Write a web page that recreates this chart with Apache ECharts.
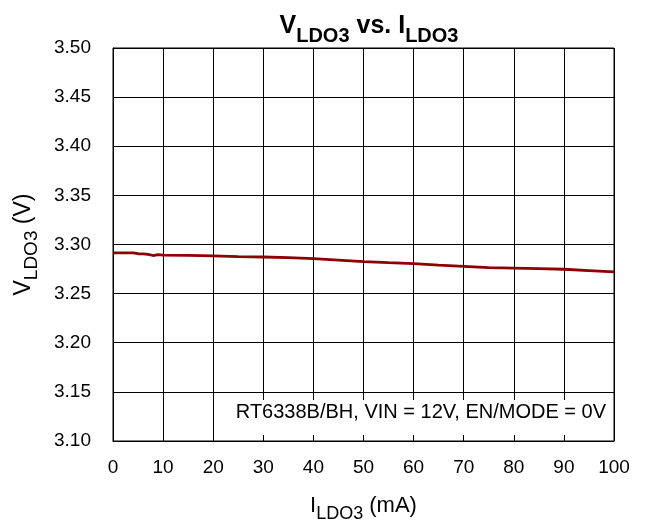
<!DOCTYPE html>
<html><head><meta charset="utf-8">
<script src="https://cdn.jsdelivr.net/npm/echarts@6/dist/echarts.min.js"></script>
<style>html,body{margin:0;padding:0;background:#fff}#c{width:649px;height:524px}</style>
</head><body><div id="c"></div>
<script>
const currentMA = [0, 2, 4, 5, 6, 7, 8, 9, 10, 15, 20, 25, 30, 35, 40, 45, 50, 55, 60, 65, 70, 75, 80, 85, 90, 95, 100];
const voltageV = [3.2915, 3.2915, 3.2914, 3.2906, 3.2905, 3.2899, 3.2888, 3.2898, 3.2891, 3.2890, 3.2884, 3.2877, 3.2873, 3.2866, 3.2856, 3.2841, 3.2826, 3.2815, 3.2805, 3.2791, 3.2778, 3.2765, 3.2760, 3.2755, 3.2748, 3.2735, 3.2721];
const yTicks = [3.10, 3.15, 3.20, 3.25, 3.30, 3.35, 3.40, 3.45, 3.50];
const xTicks = [0, 10, 20, 30, 40, 50, 60, 70, 80, 90, 100];
const note = 'RT6338B/BH, VIN = 12V, EN/MODE = 0V';
const noteBox = {x0: 20.2, x1: 99.7, y0: 3.1061, y1: 3.1418};

const F = 'Liberation Sans, Arial, sans-serif';
const chart = echarts.init(document.getElementById('c'));
chart.setOption({
  animation: false,
  backgroundColor: '#fff',
  title: {
    text: '{m|V}{s|LDO3}{m| vs. I}{s|LDO3}',
    left: 364, textAlign: 'center', top: 5,
    textStyle: {
      rich: {
        m: {fontFamily: F, fontSize: 25, fontWeight: 'bold', color: '#000', lineHeight: 29, verticalAlign: 'bottom'},
        s: {fontFamily: F, fontSize: 20, fontWeight: 'bold', color: '#000', lineHeight: 24, verticalAlign: 'bottom', padding: [0,0,-7,0]}
      }
    }
  },
  grid: {left: 113, right: 35, top: 48, bottom: 83, show: true, borderColor: '#000', borderWidth: 1, containLabel: false, outerBoundsMode: 'none'},
  xAxis: {
    type: 'value', min: xTicks[0], max: xTicks[xTicks.length-1], interval: 10,
    axisLine: {show: true, lineStyle: {color: '#000', width: 1}},
    axisTick: {show: false},
    splitLine: {show: true, lineStyle: {color: '#000', width: 1}},
    axisLabel: {fontFamily: F, fontSize: 19, color: '#000', margin: 17},
    name: '{m|I}{s|LDO3}{m| (mA)}', nameLocation: 'middle', nameGap: 50,
    nameTextStyle: {rich: {
      m: {fontFamily: F, fontSize: 22, color: '#000', lineHeight: 26, verticalAlign: 'bottom'},
      s: {fontFamily: F, fontSize: 18, color: '#000', lineHeight: 22, verticalAlign: 'bottom', padding: [0,0,-6,0]}
    }}
  },
  yAxis: {
    type: 'value', min: yTicks[0], max: yTicks[yTicks.length-1], interval: 0.05,
    axisLine: {show: true, lineStyle: {color: '#000', width: 1}},
    axisTick: {show: false},
    splitLine: {show: true, lineStyle: {color: '#000', width: 1}},
    axisLabel: {fontFamily: F, fontSize: 19, color: '#000', margin: 22, formatter: v => v.toFixed(2)},
    name: '{m|V}{s|LDO3}{m| (V)}', nameLocation: 'middle', nameGap: 78, nameRotate: 90,
    nameTextStyle: {rich: {
      m: {fontFamily: F, fontSize: 23, color: '#000', lineHeight: 27, verticalAlign: 'bottom'},
      s: {fontFamily: F, fontSize: 19, color: '#000', lineHeight: 23, verticalAlign: 'bottom', padding: [0,0,-6,0]}
    }}
  },
  series: [{
    type: 'line', data: currentMA.map((x, i) => [x, voltageV[i]]),
    showSymbol: false, smooth: false,
    lineStyle: {color: '#8B0000', width: 2.8}
  }]
});
const p0 = chart.convertToPixel({gridIndex: 0}, [noteBox.x0, noteBox.y1]);
const p1 = chart.convertToPixel({gridIndex: 0}, [noteBox.x1, noteBox.y0]);
chart.setOption({
  graphic: [
    {type: 'rect', z: 50, shape: {x: p0[0], y: p0[1], width: p1[0] - p0[0], height: p1[1] - p0[1]}, style: {fill: '#fff'}},
    {type: 'text', z: 51, right: 43, top: 402, style: {text: note, fontFamily: F, fontSize: 20, fill: '#000'}}
  ]
});
</script></body></html>
